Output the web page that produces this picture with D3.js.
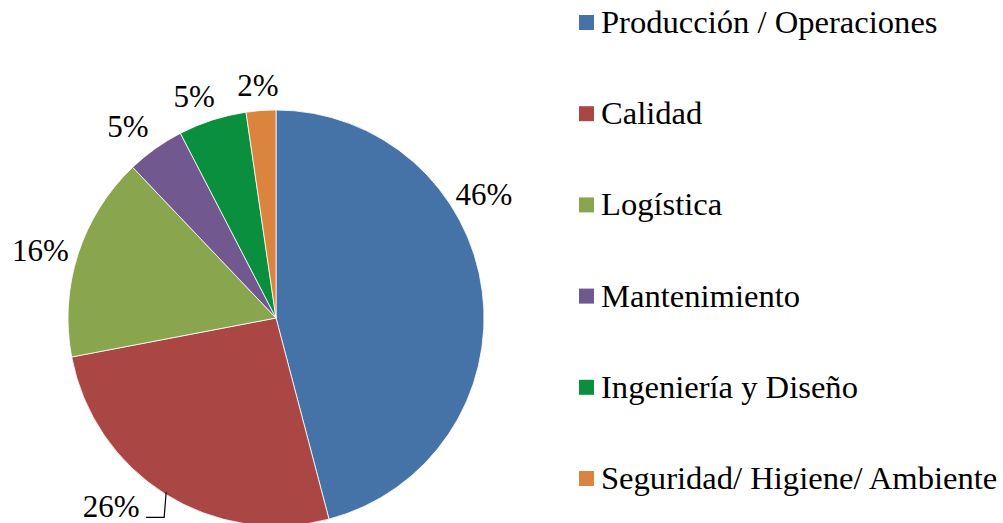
<!DOCTYPE html>
<html><head><meta charset="utf-8">
<script src="https://cdn.jsdelivr.net/npm/d3@7"></script>
<style>body{margin:0;background:#fff;}svg{display:block;}</style>
</head><body>
<svg id="chart" width="1003" height="523"></svg>
<script>
const categories = ["Producción / Operaciones","Calidad","Logística","Mantenimiento","Ingeniería y Diseño","Seguridad/ Higiene/ Ambiente"];
const values = [45.9, 26.1, 15.9, 4.5, 5.3, 2.3];
const labels = ["46%","26%","16%","5%","5%","2%"];
const colors = ["#4572A7","#AA4643","#89A54E","#71588F","#0A8F3F","#DB843D"];

const svg = d3.select("#chart");
const cx = 276, cy = 318, R = 208;
const fs = 31, lfs = 32.6;
const FONT = '"Liberation Serif"';

const pie = d3.pie().value(d => d).sort(null);
const arcs = pie(values);
const arc = d3.arc().innerRadius(0).outerRadius(R);
const g = svg.append("g").attr("transform", `translate(${cx},${cy})`);
g.selectAll("path").data(arcs).join("path")
  .attr("d", arc).attr("fill", (d,i) => colors[i])
  .attr("stroke", "#fff").attr("stroke-width", 0.8);

const labelArc = d3.arc().innerRadius(R + 30).outerRadius(R + 30);
const nudges = [[-28,-93],[-38,-13],[-9,5],[-10,2],[-9,5],[-1,5]];
const labelPos = arcs.map((a,i) => {
  const [x,y] = labelArc.centroid(a);
  return [x + nudges[i][0], y + nudges[i][1]];
});
labelPos.forEach(([x,y],i) => {
  g.append("text").attr("x", x).attr("y", y)
    .attr("text-anchor","middle").attr("dominant-baseline","central")
    .style("font-family", FONT).style("font-size", fs + "px").attr("fill","#000")
    .text(labels[i]);
});
// leader line for 26%
{
  const a = arcs[1];
  const [ex, ey] = d3.arc().innerRadius(R - 2).outerRadius(R - 2).centroid(a);
  const [lx, ly] = labelPos[1];
  const by = ly + 11;
  g.append("path")
    .attr("d", `M${ex},${ey}L${ex-2},${by}L${lx+35},${by}`)
    .attr("fill","none").attr("stroke","#000").attr("stroke-width",1.2);
}

// legend
const leg = svg.append("g");
const y0 = 22, dy = 91.2;
categories.forEach((c,i) => {
  const y = y0 + i*dy;
  leg.append("rect").attr("x", 579).attr("y", y - 7).attr("width", 15).attr("height", 15).attr("fill", colors[i]);
  leg.append("text").attr("x", 601).attr("y", y).attr("dominant-baseline","central")
    .style("font-family", FONT).style("font-size", lfs + "px").attr("fill","#000").text(c);
});
</script>
</body></html>
